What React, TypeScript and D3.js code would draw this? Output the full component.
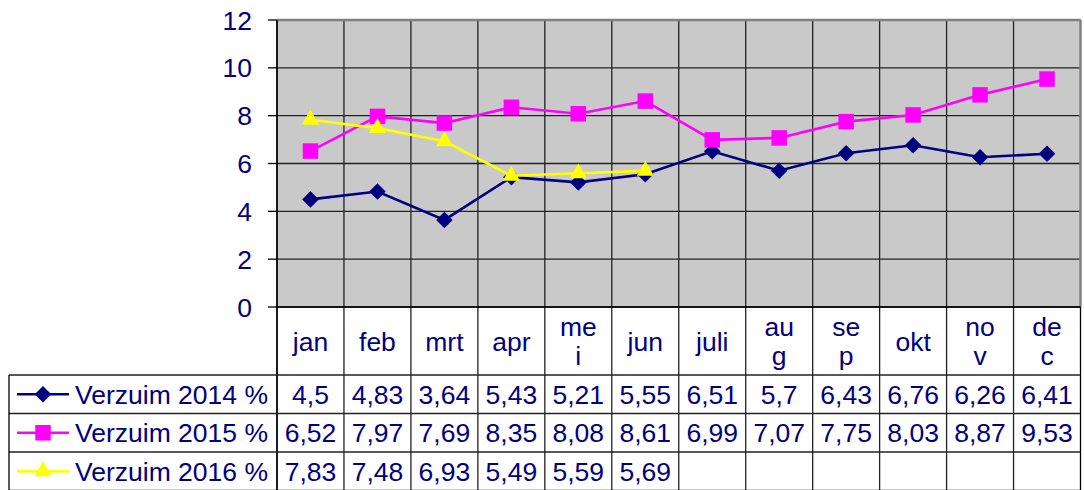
import React from 'react';
import * as d3 from 'd3';

const months = ['jan', 'feb', 'mrt', 'apr', 'mei', 'jun', 'juli', 'aug', 'sep', 'okt', 'nov', 'dec'];
// header labels as Excel wrapped them in the narrow columns
const monthLabels = ['jan', 'feb', 'mrt', 'apr', 'me\ni', 'jun', 'juli', 'au\ng', 'se\np', 'okt', 'no\nv', 'de\nc'];
const yTicks = [0, 2, 4, 6, 8, 10, 12];

const verzuim2014 = [4.5, 4.83, 3.64, 5.43, 5.21, 5.55, 6.51, 5.7, 6.43, 6.76, 6.26, 6.41];
const verzuim2015 = [6.52, 7.97, 7.69, 8.35, 8.08, 8.61, 6.99, 7.07, 7.75, 8.03, 8.87, 9.53];
const verzuim2016 = [7.83, 7.48, 6.93, 5.49, 5.59, 5.69];

const seriesNames = ['Verzuim 2014 %', 'Verzuim 2015 %', 'Verzuim 2016 %'];
const seriesColors = ['#000080', '#FF00FF', '#FFFF00'];
const seriesMarkers = [d3.symbolDiamond2, d3.symbolSquare, d3.symbolTriangle2];

const W = 1084;
const H = 490;
const plotLeft = 277;
const plotRight = 1080.5;
const plotTop = 20;
const plotBottom = 307;
const headerBottom = 375;
const rowH = 38.5;
const legendLeft = 9;
const font = '"Liberation Sans", Arial, sans-serif';
const fontSize = 26.5;
const textColor = '#000080';

const fmt = (v: number) => String(v).replace('.', ',');

const App = () => {
  const x = d3.scaleBand<string>().domain(months).range([plotLeft, plotRight]);
  const y = d3.scaleLinear().domain([0, 12]).range([plotBottom, plotTop]);
  const cx = (m: string) => (x(m) ?? 0) + x.bandwidth() / 2;

  const series = [verzuim2014, verzuim2015, verzuim2016];
  const line = d3
    .line<number>()
    .x((_, i) => cx(months[i]))
    .y(d => y(d));

  const markerSizes = [175, 240, 210];
  const tableBottom = headerBottom + rowH * 3;

  return (
    <svg width={W} height={H} style={{ display: 'block', position: 'absolute', left: 0, top: 0 }}>
      <rect x={0} y={0} width={W} height={H} fill="#ffffff" />
      {/* plot area */}
      <rect x={plotLeft} y={plotTop} width={plotRight - plotLeft} height={plotBottom - plotTop} fill="#C9C9C9" />
      {yTicks.map(t => (
        <line key={'h' + t} x1={plotLeft} x2={plotRight} y1={y(t)} y2={y(t)} stroke="#222" strokeWidth={1.3} />
      ))}
      {months.map(m => (
        <line key={'v' + m} x1={x(m)} x2={x(m)} y1={plotTop} y2={tableBottom} stroke="#222" strokeWidth={1.3} />
      ))}
      <line x1={plotLeft} x2={plotRight} y1={plotTop} y2={plotTop} stroke="#808080" strokeWidth={2.5} />
      <line x1={plotRight} x2={plotRight} y1={plotTop} y2={plotBottom} stroke="#808080" strokeWidth={2.5} />
      <line x1={plotLeft} x2={plotLeft} y1={plotTop} y2={tableBottom} stroke="#000" strokeWidth={1.5} />

      {/* y axis */}
      {yTicks.map(t => (
        <g key={'t' + t}>
          <line x1={268} x2={plotLeft} y1={y(t)} y2={y(t)} stroke="#000" strokeWidth={1.3} />
          <text x={252} y={y(t)} dy="0.36em" textAnchor="end" fontFamily={font} fontSize={fontSize} fill={textColor}>
            {t}
          </text>
        </g>
      ))}

      {/* lines and markers */}
      {series.map((s, si) => (
        <g key={'s' + si}>
          <path d={line(s) ?? ''} fill="none" stroke={seriesColors[si]} strokeWidth={2.6} />
          {s.map((v, i) => (
            <path
              key={i}
              d={d3.symbol(seriesMarkers[si], markerSizes[si])() ?? ''}
              transform={`translate(${cx(months[i])},${y(v)})`}
              fill={seriesColors[si]}
            />
          ))}
        </g>
      ))}

      {/* data table */}
      <line x1={plotLeft} x2={plotRight} y1={plotBottom} y2={plotBottom} stroke="#000" strokeWidth={1.5} />
      <line x1={plotRight} x2={plotRight} y1={plotBottom} y2={tableBottom} stroke="#000" strokeWidth={1.3} />
      {[0, 1, 2, 3].map(r => (
        <line
          key={'r' + r}
          x1={legendLeft}
          x2={plotRight}
          y1={headerBottom + r * rowH}
          y2={headerBottom + r * rowH}
          stroke="#222"
          strokeWidth={1.3}
        />
      ))}
      <line x1={legendLeft} x2={legendLeft} y1={headerBottom} y2={tableBottom} stroke="#000" strokeWidth={1.3} />

      {monthLabels.map((lab, i) => {
        const lines = lab.split('\n');
        const mid = (plotBottom + headerBottom) / 2;
        return (
          <text key={'m' + i} textAnchor="middle" fontFamily={font} fontSize={fontSize} fill={textColor}>
            {lines.map((l, li) => (
              <tspan key={li} x={cx(months[i])} y={mid + (li - (lines.length - 1) / 2) * 29} dy="0.36em">
                {l}
              </tspan>
            ))}
          </text>
        );
      })}

      {series.map((s, si) => {
        const rowMid = headerBottom + si * rowH + rowH / 2;
        return (
          <g key={'row' + si}>
            <line x1={17} x2={69} y1={rowMid} y2={rowMid} stroke={seriesColors[si]} strokeWidth={2.6} />
            <path
              d={d3.symbol(seriesMarkers[si], markerSizes[si])() ?? ''}
              transform={`translate(43,${rowMid})`}
              fill={seriesColors[si]}
            />
            <text x={75} y={rowMid} dy="0.36em" fontFamily={font} fontSize={fontSize} fill={textColor}>
              {seriesNames[si]}
            </text>
            {s.map((v, i) => (
              <text
                key={i}
                x={cx(months[i])}
                y={rowMid}
                dy="0.36em"
                textAnchor="middle"
                fontFamily={font}
                fontSize={fontSize}
                fill={textColor}
              >
                {fmt(v)}
              </text>
            ))}
          </g>
        );
      })}
    </svg>
  );
};

export default App;
